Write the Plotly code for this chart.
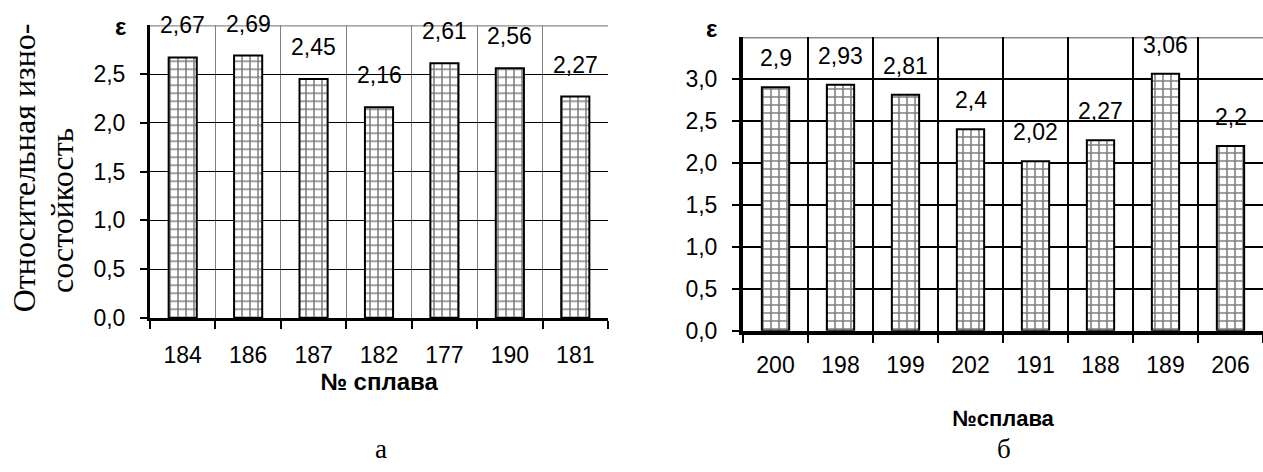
import plotly.graph_objects as go

# ---- data ----
cats_a = ["184", "186", "187", "182", "177", "190", "181"]
vals_a = [2.67, 2.69, 2.45, 2.16, 2.61, 2.56, 2.27]
cats_b = ["200", "198", "199", "202", "191", "188", "189", "206"]
vals_b = [2.9, 2.93, 2.81, 2.4, 2.02, 2.27, 3.06, 2.2]
yticks_a = [0, 0.5, 1.0, 1.5, 2.0, 2.5]
yticks_b = [0, 0.5, 1.0, 1.5, 2.0, 2.5, 3.0]
ymax_a = 3.0
ymax_b = 3.5

W, H = 1263, 472
Y_OFF = 8
SANS = "Liberation Sans"
SERIF = "Liberation Serif"


def px_x(p):
    return p / W


def px_y(p):
    return 1 - (p + Y_OFF) / H


def fmt(v):
    return f"{v:g}".replace(".", ",")


pattern = dict(shape="+", size=8, solidity=0.35, fgcolor="black", bgcolor="white")

fig = go.Figure()
fig.add_trace(go.Bar(x=cats_a, y=vals_a, xaxis="x", yaxis="y",
                     marker=dict(color="white", pattern=pattern,
                                 line=dict(color="black", width=2)),
                     width=0.43, showlegend=False, hoverinfo="skip"))
fig.add_trace(go.Bar(x=cats_b, y=vals_b, xaxis="x2", yaxis="y2",
                     marker=dict(color="white", pattern=pattern,
                                 line=dict(color="black", width=2)),
                     width=0.42, showlegend=False, hoverinfo="skip"))

tickfont = dict(family=SANS, size=23, color="black")

fig.update_layout(
    width=W, height=H,
    margin=dict(l=0, r=0, t=0, b=0),
    paper_bgcolor="white", plot_bgcolor="white",
    separators=", ",
    xaxis=dict(domain=[px_x(150), px_x(608)], anchor="y",
               type="category", tickson="boundaries",
               range=[-0.5, len(cats_a) - 0.5], tickangle=0,
               showgrid=True, gridcolor="#808080", gridwidth=1,
               showline=True, linecolor="black", linewidth=3,
               ticks="outside", ticklen=8, tickwidth=2, tickcolor="black",
               tickfont=tickfont, ticklabelstandoff=14,
               title=dict(text="<b>№ сплава</b>", font=dict(family=SANS, size=24, color="black"),
                          standoff=3),
               fixedrange=True),
    yaxis=dict(domain=[px_y(319), px_y(18)], anchor="x",
               range=[0, ymax_a], tickvals=yticks_a, tickformat=".1f",
               showgrid=True, gridcolor="black", gridwidth=1,
               showline=True, linecolor="black", linewidth=3,
               ticks="outside", ticklen=7, tickwidth=2, tickcolor="black",
               tickfont=tickfont, ticklabelstandoff=10, zeroline=False,
               fixedrange=True),
    xaxis2=dict(domain=[px_x(743), 1.0], anchor="y2",
                type="category", tickson="boundaries",
                range=[-0.5, len(cats_b) - 0.5], tickangle=0,
                showgrid=True, gridcolor="black", gridwidth=2,
                showline=True, linecolor="black", linewidth=4,
                ticks="outside", ticklen=8, tickwidth=2, tickcolor="black",
                tickfont=tickfont, ticklabelstandoff=11,
                title=dict(text="<b>№сплава</b>", font=dict(family=SANS, size=22, color="black"),
                           standoff=34),
                fixedrange=True),
    yaxis2=dict(domain=[px_y(332), px_y(30)], anchor="x2",
                range=[0, ymax_b], tickvals=yticks_b, tickformat=".1f",
                showgrid=True, gridcolor="black", gridwidth=2,
                showline=True, linecolor="black", linewidth=4,
                ticks="outside", ticklen=7, tickwidth=2, tickcolor="black",
                tickfont=tickfont, ticklabelstandoff=10, zeroline=False,
                fixedrange=True),
    bargap=0.57,
)

# gray top border lines
fig.add_shape(type="line", xref="x domain", yref="y", x0=0, x1=1, y0=ymax_a, y1=ymax_a,
              line=dict(color="#8c8c8c", width=2.5), layer="below")
fig.add_shape(type="line", xref="x2 domain", yref="y2", x0=0, x1=1, y0=ymax_b, y1=ymax_b,
              line=dict(color="#8c8c8c", width=3), layer="below")

annots = []
for i, v in enumerate(vals_a):
    annots.append(dict(xref="x", yref="y", x=i, y=v, text=fmt(v), showarrow=False,
                       yanchor="bottom", yshift=17, font=dict(family=SANS, size=23, color="black")))
for i, v in enumerate(vals_b):
    annots.append(dict(xref="x2", yref="y2", x=i, y=v, text=fmt(v), showarrow=False,
                       yanchor="bottom", yshift=14, font=dict(family=SANS, size=23, color="black")))

# epsilon labels
annots.append(dict(xref="paper", yref="paper", x=px_x(120), y=px_y(19), text="<b>ε</b>",
                   showarrow=False, xanchor="center", yanchor="middle",
                   font=dict(family=SANS, size=24, color="black")))
annots.append(dict(xref="paper", yref="paper", x=px_x(711), y=px_y(21), text="<b>ε</b>",
                   showarrow=False, xanchor="center", yanchor="middle",
                   font=dict(family=SANS, size=24, color="black")))

# rotated y title (two lines)
annots.append(dict(xref="paper", yref="paper", x=px_x(24), y=px_y(165),
                   text="Относительная изно-", textangle=-90, showarrow=False,
                   xanchor="center", yanchor="middle",
                   font=dict(family=SERIF, size=32, color="black")))
annots.append(dict(xref="paper", yref="paper", x=px_x(62), y=px_y(209),
                   text="состойкость", textangle=-90, showarrow=False,
                   xanchor="center", yanchor="middle",
                   font=dict(family=SERIF, size=32, color="black")))

# subfigure letters
annots.append(dict(xref="paper", yref="paper", x=px_x(381), y=0, text="а",
                   showarrow=False, xanchor="center", yanchor="bottom", borderpad=0,
                   yshift=-6, font=dict(family=SERIF, size=27, color="black")))
annots.append(dict(xref="paper", yref="paper", x=px_x(1004), y=0, text="б",
                   showarrow=False, xanchor="center", yanchor="bottom", borderpad=0,
                   yshift=-6, font=dict(family=SERIF, size=27, color="black")))

fig.update_layout(annotations=annots)
fig.write_html("out.html", config={"displayModeBar": False},
               post_script="document.body.style.margin='0';")
